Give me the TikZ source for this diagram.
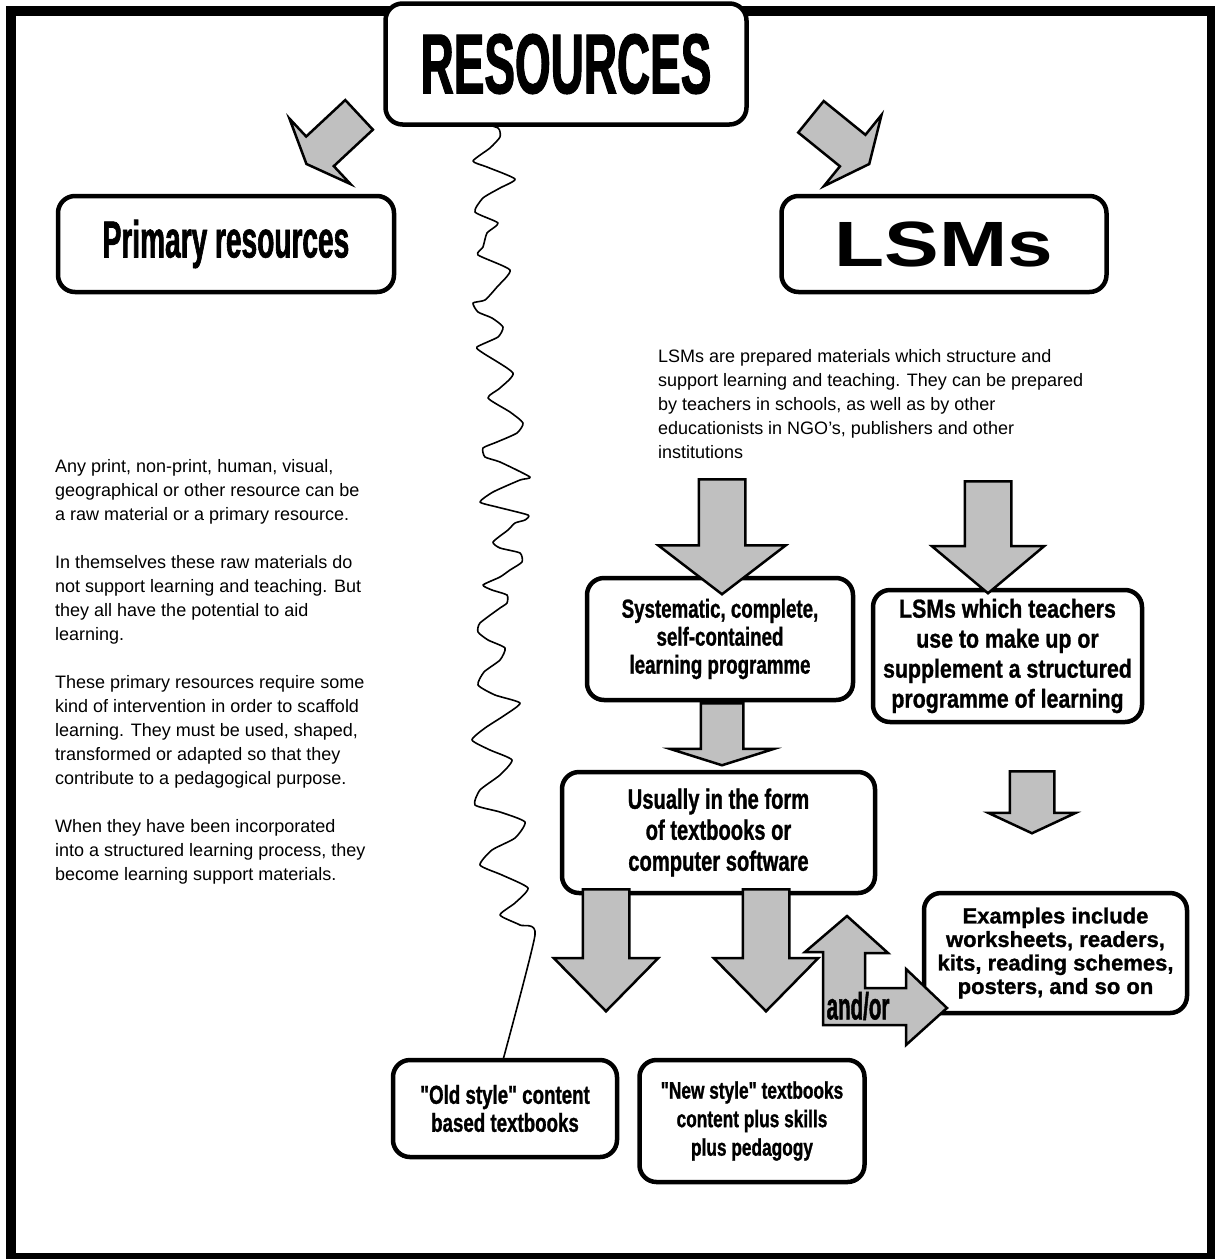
\documentclass[tikz,border=0pt]{standalone}
\usepackage{fontspec}
\setmainfont{Liberation Sans}
\newfontfamily\narrowfont[FakeStretch=0.54, FakeBold=1.2]{Liberation Sans}
\newfontfamily\condfont[FakeStretch=0.72, FakeBold=1]{Liberation Sans}
\newfontfamily\semifont[FakeStretch=0.82, FakeBold=1]{Liberation Sans}
\newfontfamily\widefont[FakeStretch=1.28]{Liberation Sans}
\newfontfamily\heavyfont[FakeBold=1.2]{Liberation Sans}
\definecolor{ArrowGray}{RGB}{192,192,192}
\usetikzlibrary{shapes.arrows}

\begin{document}
\begin{tikzpicture}[x=1pt, y=-1pt,
    every node/.style={align=center, inner sep=0pt},
    box/.style={draw, line width=4.5pt, rounded corners=17pt, fill=white},
    cond/.style={font=\condfont\bfseries\fontsize{26}{28}\selectfont},
    body/.style={anchor=north west, align=left, font=\fontsize{18}{24}\selectfont},
    fatarr/.style n args={4}{single arrow, draw, line width=2.5pt, fill=ArrowGray,
                 anchor=tail, inner xsep=0pt, inner ysep=#2/2, minimum height=#1,
                 single arrow head extend=(#3-#2)/2, single arrow tip angle=#4}
  ]
  \useasboundingbox (0,0) rectangle (1215,1259);
  % frame
  \draw[line width=10pt] (11,11) rectangle (1212,1258);
  % dividing line
  \draw[line width=1.6pt, line join=round] plot[smooth, tension=0.35] coordinates {
    (477,122) (498,128) (500,137) (490,148) (473,161) (487,167) (515,179) (500,188)
    (483,198) (475,212) (498,223) (487,233) (483,247) (478,255) (510,270) (497,287)
    (485,300) (473,303) (478,312) (492,318) (503,327) (498,337) (477,347) (483,353)
    (513,373) (500,388) (488,398) (510,412) (523,423) (517,433) (497,442) (483,448)
    (485,457) (500,462) (530,477) (520,480) (493,492) (480,502) (497,507) (528,515)
    (525,520) (515,523) (508,530) (493,542) (500,548) (520,553) (522,562) (510,570)
    (500,577) (483,585) (492,590) (507,595) (507,603) (500,608) (480,623) (478,632)
    (488,640) (505,648) (500,660) (484,672) (478,685) (495,695) (520,703) (505,715)
    (485,728) (472,740) (490,750) (512,760) (500,775) (480,790) (475,805) (500,812)
    (525,822) (515,838) (492,850) (480,865) (502,875) (528,888) (515,903) (500,915)
    (520,925) (535,935) (503,1060)};

  \node[box, minimum width=361, minimum height=121,
        font=\narrowfont\bfseries\fontsize{85}{85}\selectfont] (res) at (566,64) {RESOURCES};
  \node[box, minimum width=336, minimum height=96,
        font=\narrowfont\bfseries\fontsize{52}{52}\selectfont] (prim) at (226,244) {Primary resources};
  \node[box, minimum width=325, minimum height=96,
        font=\widefont\bfseries\fontsize{64}{64}\selectfont] (lsm) at (944,244) {LSMs};

  \node[body] (primtext) at (55,459) {Any print, non-print, human, visual,\\
    geographical or other resource can be\\
    a raw material or a primary resource.\\[24pt]
    In themselves these raw materials do\\
    not support learning and teaching. But\\
    they all have the potential to aid\\
    learning.\\[24pt]
    These primary resources require some\\
    kind of intervention in order to scaffold\\
    learning. They must be used, shaped,\\
    transformed or adapted so that they\\
    contribute to a pedagogical purpose.\\[24pt]
    When they have been incorporated\\
    into a structured learning process, they\\
    become learning support materials.};
  \node[body] (lsmtext) at (658,349) {LSMs are prepared materials which structure and\\
    support learning and teaching. They can be prepared\\
    by teachers in schools, as well as by other\\
    educationists in NGO’s, publishers and other\\
    institutions};

  \node[box, minimum width=266, minimum height=122, cond] (sys) at (720,639)
    {Systematic, complete,\\self-contained\\learning programme};
  \node[box, minimum width=269, minimum height=132,
        font=\semifont\bfseries\fontsize{26}{30}\selectfont] (teach) at (1007.5,656)
    {LSMs which teachers\\use to make up or\\supplement a structured\\programme of learning};
  \node[box, minimum width=313, minimum height=121,
        font=\condfont\bfseries\fontsize{28}{31}\selectfont] (usual) at (718.5,832.5)
    {Usually in the form\\of textbooks or\\computer software};
  \node[box, minimum width=263, minimum height=120,
        font=\heavyfont\bfseries\fontsize{22}{23.5}\selectfont] (examples) at (1055.5,953)
    {Examples include\\worksheets, readers,\\kits, reading schemes,\\posters, and so on};
  \node[box, minimum width=224, minimum height=97, cond] (old) at (505,1108.5)
    {"Old style" content\\based textbooks};
  \node[box, minimum width=225, minimum height=122,
        font=\condfont\bfseries\fontsize{24}{28.5}\selectfont] (new) at (752,1121)
    {"New style" textbooks\\content plus skills\\plus pedagogy};

  % block arrows
  \node[fatarr={72}{38}{87}{135}, rotate=-137] (dl) at (360,114) {};
  \node[fatarr={75}{38}{89}{130}, rotate=-39] (dr) at (810,116) {};
  \node[fatarr={115}{44}{125}{105}, rotate=-90] (a1) at (722,478) {};
  \node[fatarr={112}{44}{110}{100}, rotate=-90] (a3) at (988,480) {};
  \node[fatarr={62}{40}{101}{145}, rotate=-90] (a2) at (722,702) {};
  \node[fatarr={62}{42}{85}{130}, rotate=-90] (a4) at (1032,770) {};
  \node[fatarr={122}{44}{102}{89}, rotate=-90] (a5) at (606,888) {};
  \node[fatarr={122}{44}{102}{89}, rotate=-90] (a6) at (766,888) {};
  \filldraw[line width=2.5pt, fill=ArrowGray] (823,1025) -- (823,952) -- (805,952)
    -- (847,916) -- (888,953) -- (865,953) -- (865,988) -- (906,988) -- (906,969)
    -- (947,1008) -- (906,1045) -- (906,1025) -- cycle;
  \node[font=\narrowfont\bfseries\fontsize{38}{38}\selectfont] (andor) at (858,1006) {and/or};
\end{tikzpicture}
\end{document}
